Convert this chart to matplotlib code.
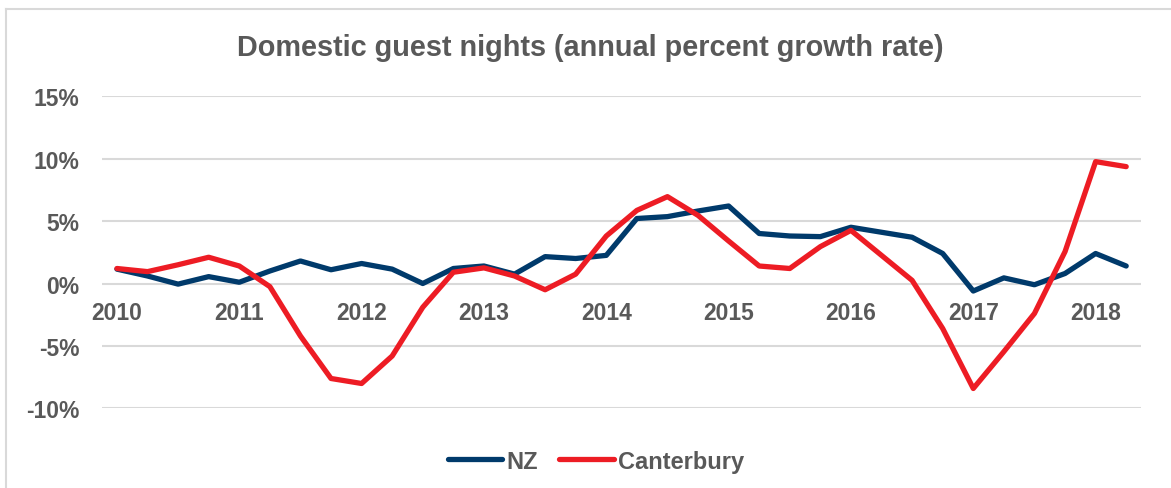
import matplotlib
matplotlib.use("Agg")
import matplotlib.pyplot as plt
from matplotlib.lines import Line2D

plt.rcParams['font.family'] = ['Liberation Sans', 'DejaVu Sans']

title = "Domestic guest nights (annual percent growth rate)"
years = ["2010", "2011", "2012", "2013", "2014", "2015", "2016", "2017", "2018"]
nz = [1.15, 0.6, -0.05, 0.55, 0.1, 1.0, 1.8, 1.1, 1.6, 1.15, 0.0, 1.2,
      1.4, 0.75, 2.15, 2.0, 2.25, 5.2, 5.35, 5.8, 6.2, 4.0, 3.8, 3.75,
      4.5, 4.1, 3.7, 2.4, -0.6, 0.45, -0.1, 0.8, 2.4, 1.4]
canterbury = [1.2, 0.95, 1.5, 2.1, 1.4, -0.25, -4.2, -7.6, -8.0, -5.8, -1.9, 0.9,
              1.25, 0.6, -0.5, 0.75, 3.8, 5.85, 6.95, 5.45, 3.4, 1.4, 1.2, 2.95,
              4.25, 2.25, 0.25, -3.6, -8.4, -5.45, -2.4, 2.55, 9.75, 9.35]
yticks = [-10, -5, 0, 5, 10, 15]

gray = "#595959"
fig = plt.figure(figsize=(11.71, 4.89), dpi=100)
ax = fig.add_axes([0.0868, 0.1626, 0.888, 0.639])

x = list(range(len(nz)))
ax.plot(x, nz, color="#003A6B", lw=3.8, label="NZ", solid_capstyle="round", solid_joinstyle="round")
ax.plot(x, canterbury, color="#ED1C24", lw=3.8, label="Canterbury", solid_capstyle="round", solid_joinstyle="round")

ax.set_xlim(-0.5, 33.5)
ax.set_ylim(-10, 15)
ax.set_yticks(yticks)
ax.set_yticklabels([f"{v}%" for v in yticks], fontsize=16.5, fontweight="bold", color=gray)
ax.grid(axis="y", color="#D9D9D9", lw=1.5)
ax.set_axisbelow(True)
ax.set_xticks([])
for s in ax.spines.values():
    s.set_visible(False)
ax.tick_params(axis="y", length=0, pad=16)

for i, yr in enumerate(years):
    ax.text(i * 4, -2.3, yr, ha="center", va="center", fontsize=16.5, fontweight="bold", color=gray)

fig.text(0.504, 0.902, title, ha="center", va="center", fontsize=20.8, fontweight="bold", color=gray)

leg = fig.legend(loc="center", bbox_to_anchor=(0.509, 0.055), ncol=2, frameon=False,
                 prop={"size": 17, "weight": "bold"}, handlelength=2.3, handletextpad=0.2,
                 columnspacing=0.9)
for t in leg.get_texts():
    t.set_color(gray)

# outer chart border (top and left edges visible)
fig.add_artist(Line2D([6 / 1171, 1.0], [1 - 10 / 489, 1 - 10 / 489], transform=fig.transFigure,
                      color="#D9D9D9", lw=1.5))
fig.add_artist(Line2D([6 / 1171, 6 / 1171], [0.0, 1 - 10 / 489], transform=fig.transFigure,
                      color="#D9D9D9", lw=1.5))

fig.savefig("out.png", dpi=100)
